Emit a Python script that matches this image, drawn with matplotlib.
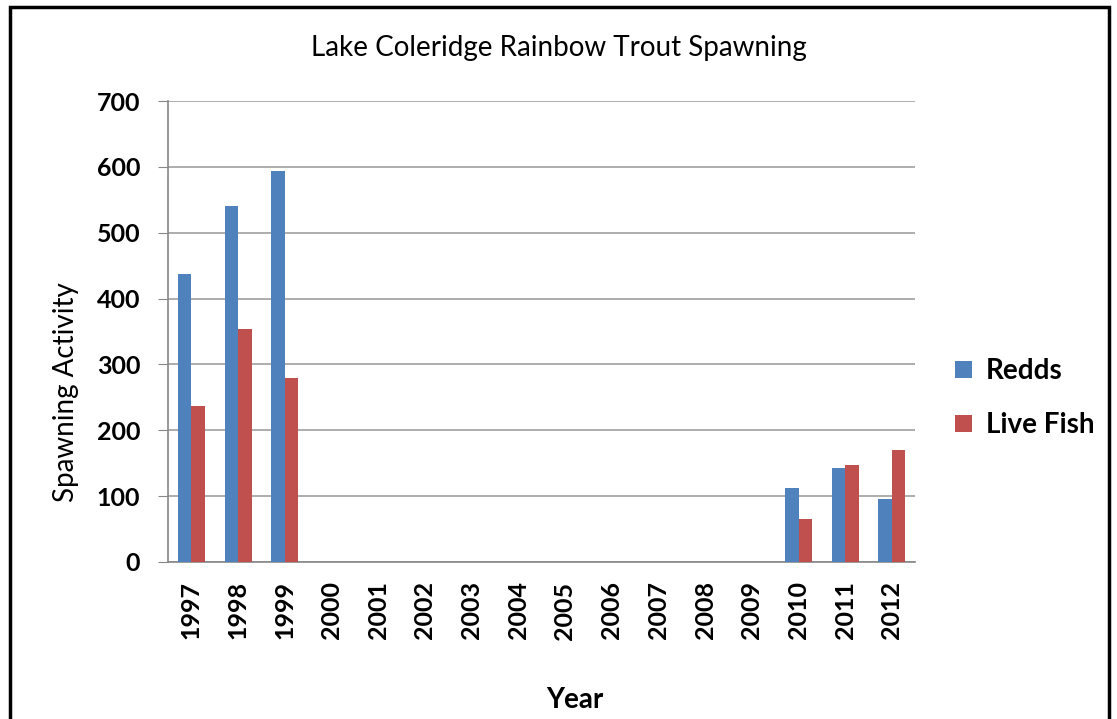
import numpy as np
import matplotlib.pyplot as plt
from matplotlib.patches import Rectangle

years = [str(y) for y in range(1997, 2013)]
redds = [438, 540, 593, 0, 0, 0, 0, 0, 0, 0, 0, 0, 0, 113, 143, 95]
live_fish = [237, 354, 279, 0, 0, 0, 0, 0, 0, 0, 0, 0, 0, 65, 147, 170]
y_ticks = [0, 100, 200, 300, 400, 500, 600, 700]

plt.rcParams["font.family"] = ["Lato", "DejaVu Sans"]

fig = plt.figure(figsize=(11.17, 7.19), dpi=100)
ax = fig.add_axes([0.1504, 0.2184, 0.669, 0.6411])

x = np.arange(len(years))
w = 0.29
ax.bar(x - w / 2, redds, width=w, color="#4f81bd", label="Redds", zorder=3)
ax.bar(x + w / 2, live_fish, width=w, color="#c0504d", label="Live Fish", zorder=3)

ax.set_xlim(-0.5, len(years) - 0.5)
ax.set_ylim(0, 700)
ax.set_yticks(y_ticks)
ax.set_xticks(x)
ax.set_xticklabels(years, rotation=90, fontsize=18, fontweight="bold")
ax.set_yticklabels([str(v) for v in y_ticks], fontsize=18, fontweight="bold")
ax.tick_params(axis="y", length=7, color="#888888", pad=13)
ax.tick_params(axis="x", length=0, pad=14)
ax.grid(axis="y", color="#a0a0a0", linewidth=1.2, zorder=0)

for side in ["top", "right"]:
    ax.spines[side].set_visible(False)
ax.spines["left"].set_color("#888888")
ax.spines["bottom"].set_color("#888888")
ax.spines["left"].set_linewidth(1.2)
ax.spines["bottom"].set_linewidth(1.2)

fig.text(0.059, 0.455, "Spawning Activity", fontsize=20, rotation=90,
         ha="center", va="center")
fig.text(0.5145, 0.026, "Year", fontsize=20, fontweight="bold", ha="center", va="center")
fig.text(0.5, 0.933, "Lake Coleridge Rainbow Trout Spawning", fontsize=20,
         ha="center", va="center")

ax.legend(loc="center left", bbox_to_anchor=(1.02, 0.355), frameon=False,
          handlelength=0.6, handleheight=0.6, handletextpad=0.5, labelspacing=1.0,
          prop={"weight": "bold", "size": 20})

# chart frame
fig.patches.append(Rectangle((0.009, -0.01), 0.984, 1.0, transform=fig.transFigure,
                             fill=False, edgecolor="black", linewidth=2.5))

fig.savefig("out.png", dpi=100)
